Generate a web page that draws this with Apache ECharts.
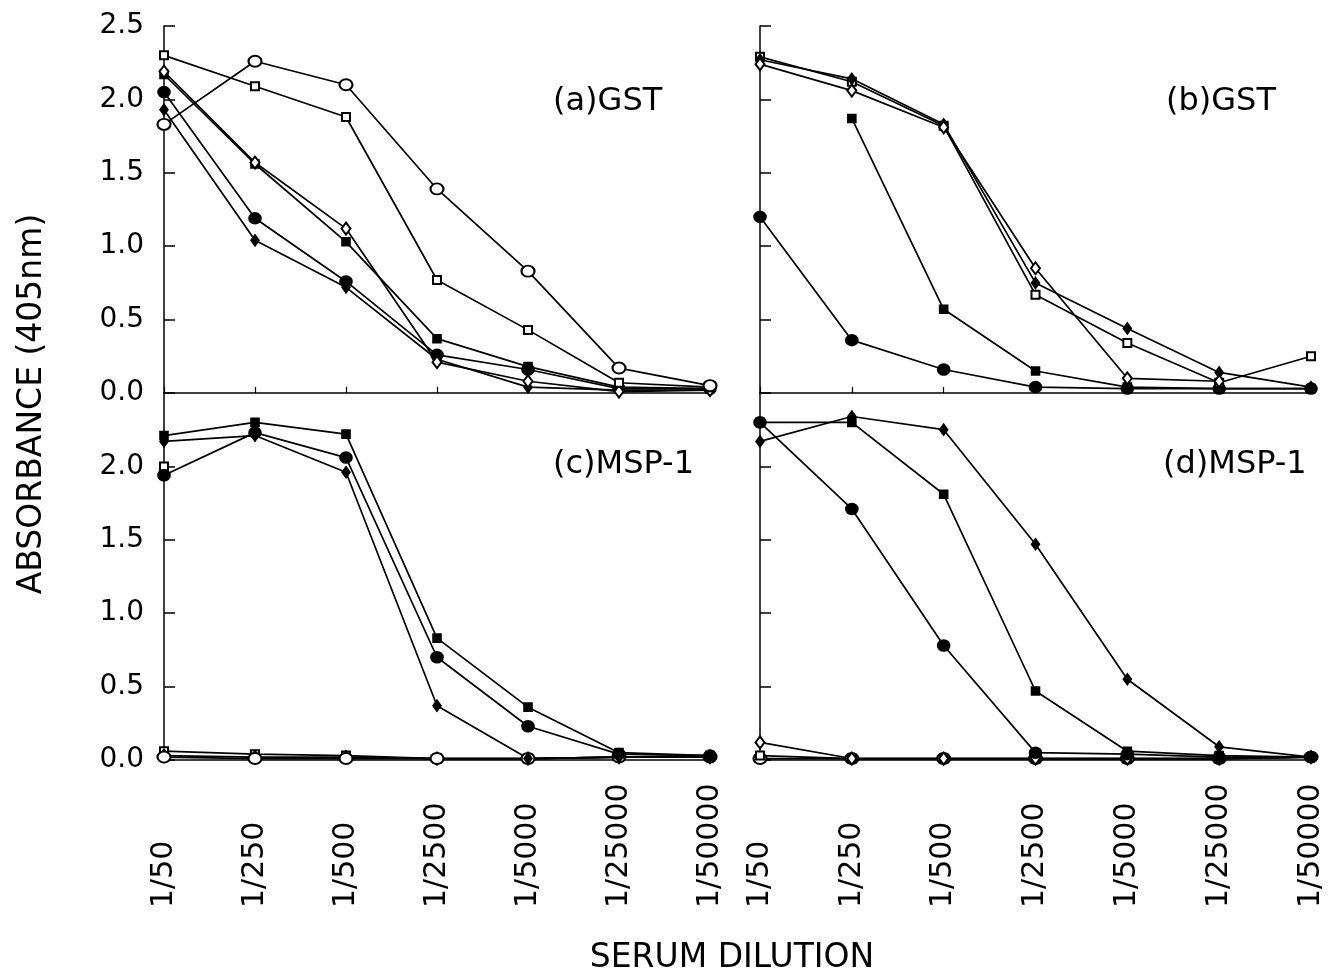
<!DOCTYPE html>
<html>
<head>
<meta charset="utf-8">
<script src="https://cdn.jsdelivr.net/npm/echarts@6/dist/echarts.min.js"></script>
<style>
  html, body { margin: 0; padding: 0; background: #fff; }
  #main { width: 1328px; height: 972px; }
</style>
</head>
<body>
<div id="main"></div>
<script>
// serum dilutions along x
var dilutions = ['1/50', '1/250', '1/500', '1/2500', '1/5000', '1/25000', '1/50000'];
var yTicks = [0, 0.5, 1.0, 1.5, 2.0, 2.5];

// (a) GST
var aOpenSquare    = [2.30, 2.09, 1.88, 0.77, 0.43, 0.07, 0.04];
var aOpenCircle    = [1.83, 2.26, 2.10, 1.39, 0.83, 0.17, 0.05];
var aOpenDiamond   = [2.19, 1.57, 1.12, 0.21, 0.08, 0.01, 0.02];
var aFilledSquare  = [2.17, 1.56, 1.03, 0.37, 0.18, 0.04, 0.03];
var aFilledCircle  = [2.05, 1.19, 0.76, 0.26, 0.16, 0.03, 0.03];
var aFilledDiamond = [1.93, 1.04, 0.72, 0.23, 0.04, 0.02, 0.02];

// (b) GST
var bOpenSquare    = [2.29, 2.12, 1.82, 0.67, 0.34, 0.07, 0.25];
var bOpenDiamond   = [2.24, 2.06, 1.81, 0.85, 0.10, 0.08, null];
var bFilledDiamond = [2.27, 2.14, 1.83, 0.75, 0.44, 0.14, 0.04];
var bFilledSquare  = [null, 1.87, 0.57, 0.15, 0.04, 0.03, 0.03];
var bFilledCircle  = [1.20, 0.36, 0.16, 0.04, 0.03, 0.03, 0.03];

// (c) MSP-1
var cFilledSquare  = [2.21, 2.30, 2.22, 0.83, 0.36, 0.05, 0.03];
var cFilledCircle  = [1.94, 2.23, 2.06, 0.70, 0.23, 0.04, 0.03];
var cFilledDiamond = [2.17, 2.21, 1.96, 0.37, 0.01, 0.02, 0.03];
var cOpenSquare    = [0.06, 0.04, 0.03, 0.01, 0.01, 0.02, 0.02];
var cOpenCircle    = [0.02, 0.01, 0.01, 0.01, 0.01, 0.02, 0.02];
var cOpenDiamond   = [0.03, 0.02, 0.02, 0.01, 0.01, 0.02, 0.02];
var cOpenSquareTop = [2.00, null, null, null, null, null, null];

// (d) MSP-1
var dFilledCircle  = [2.30, 1.71, 0.78, 0.05, 0.04, 0.02, 0.02];
var dFilledSquare  = [2.30, 2.30, 1.81, 0.47, 0.06, 0.03, 0.02];
var dFilledDiamond = [2.17, 2.34, 2.25, 1.47, 0.55, 0.09, 0.02];
var dOpenDiamond   = [0.12, 0.01, 0.01, 0.01, 0.01, 0.01, 0.02];
var dOpenSquare    = [0.03, 0.01, 0.01, 0.01, 0.01, 0.01, 0.02];
var dOpenCircle    = [0.01, 0.01, 0.01, 0.01, 0.01, 0.01, 0.02];

var FONT = 'DejaVu Sans';

var marks = {
  openSquare:    { symbol: 'emptyRect',    size: 8 },
  openCircle:    { symbol: 'emptyCircle',  size: [13, 11] },
  openDiamond:   { symbol: 'emptyDiamond', size: [9, 12] },
  filledSquare:  { symbol: 'rect',         size: 8 },
  filledCircle:  { symbol: 'circle',       size: [12, 11] },
  filledDiamond: { symbol: 'diamond',      size: [8, 11] }
};

function line(panel, kind, data) {
  return {
    type: 'line',
    xAxisIndex: panel,
    yAxisIndex: panel,
    data: data,
    symbol: marks[kind].symbol,
    symbolSize: marks[kind].size,
    showAllSymbol: true,
    connectNulls: false,
    lineStyle: { color: '#000', width: 1.7 },
    itemStyle: { color: '#000', borderColor: '#000', borderWidth: 1.6 },
    emphasis: { disabled: true },
    z: 3
  };
}

var grids = [
  { left: 164, top: 26,  width: 546, height: 367 },
  { left: 760, top: 26,  width: 551, height: 367 },
  { left: 164, top: 393, width: 546, height: 367 },
  { left: 760, top: 393, width: 551, height: 367 }
];

function xAxis(i, showLabels) {
  return {
    type: 'category',
    gridIndex: i,
    data: dilutions,
    boundaryGap: false,
    axisLine: { lineStyle: { color: '#000', width: 1.5 } },
    axisTick: { show: true, inside: true, length: 6, lineStyle: { color: '#000', width: 1.2 } },
    axisLabel: {
      show: showLabels,
      interval: 0,
      rotate: 90,
      align: 'left',
      verticalAlign: 'middle',
      margin: 148,
      color: '#000',
      fontFamily: FONT,
      fontSize: 30
    },
    splitLine: { show: false }
  };
}

function yAxis(i, showLabels, hideMax) {
  return {
    type: 'value',
    gridIndex: i,
    min: yTicks[0],
    max: yTicks[yTicks.length - 1],
    interval: 0.5,
    axisLine: { show: true, lineStyle: { color: '#000', width: 1.5 } },
    axisTick: { show: true, inside: true, length: 11, lineStyle: { color: '#000', width: 1.5 } },
    axisLabel: {
      show: showLabels,
      showMaxLabel: !hideMax,
      margin: 20,
      color: '#000',
      fontFamily: FONT,
      fontSize: 28,
      formatter: function (v) { return v.toFixed(1); }
    },
    splitLine: { show: false }
  };
}

function panelText(x, y, text) {
  return {
    type: 'text', left: x, top: y,
    style: { text: text, font: '32px "' + FONT + '"', fill: '#000' }
  };
}

var chart = echarts.init(document.getElementById('main'));
chart.setOption({
  animation: false,
  backgroundColor: '#fff',
  grid: grids,
  xAxis: [xAxis(0, false), xAxis(1, false), xAxis(2, true), xAxis(3, true)],
  yAxis: [yAxis(0, true, false), yAxis(1, false, false), yAxis(2, true, true), yAxis(3, false, true)],
  series: [
    line(0, 'filledDiamond', aFilledDiamond),
    line(0, 'filledCircle', aFilledCircle),
    line(0, 'filledSquare', aFilledSquare),
    line(0, 'openDiamond', aOpenDiamond),
    line(0, 'openSquare', aOpenSquare),
    line(0, 'openCircle', aOpenCircle),

    line(1, 'filledCircle', bFilledCircle),
    line(1, 'filledSquare', bFilledSquare),
    line(1, 'openSquare', bOpenSquare),
    line(1, 'filledDiamond', bFilledDiamond),
    line(1, 'openDiamond', bOpenDiamond),

    line(2, 'openSquare', cOpenSquareTop),
    line(2, 'openSquare', cOpenSquare),
    line(2, 'openDiamond', cOpenDiamond),
    line(2, 'openCircle', cOpenCircle),
    line(2, 'filledDiamond', cFilledDiamond),
    line(2, 'filledCircle', cFilledCircle),
    line(2, 'filledSquare', cFilledSquare),

    line(3, 'openCircle', dOpenCircle),
    line(3, 'openSquare', dOpenSquare),
    line(3, 'openDiamond', dOpenDiamond),
    line(3, 'filledDiamond', dFilledDiamond),
    line(3, 'filledSquare', dFilledSquare),
    line(3, 'filledCircle', dFilledCircle)
  ],
  graphic: [
    panelText(553, 86, '(a)GST'),
    panelText(1166, 86, '(b)GST'),
    panelText(553, 449, '(c)MSP-1'),
    panelText(1163, 449, '(d)MSP-1'),
    {
      type: 'text', x: 32, y: 404, rotation: Math.PI / 2,
      style: { text: 'ABSORBANCE (405nm)', font: '33px "' + FONT + '"', fill: '#000',
               align: 'center', verticalAlign: 'middle' }
    },
    {
      type: 'text', x: 732, y: 958,
      style: { text: 'SERUM DILUTION', font: '33px "' + FONT + '"', fill: '#000',
               align: 'center', verticalAlign: 'middle' }
    }
  ]
});
</script>
</body>
</html>
